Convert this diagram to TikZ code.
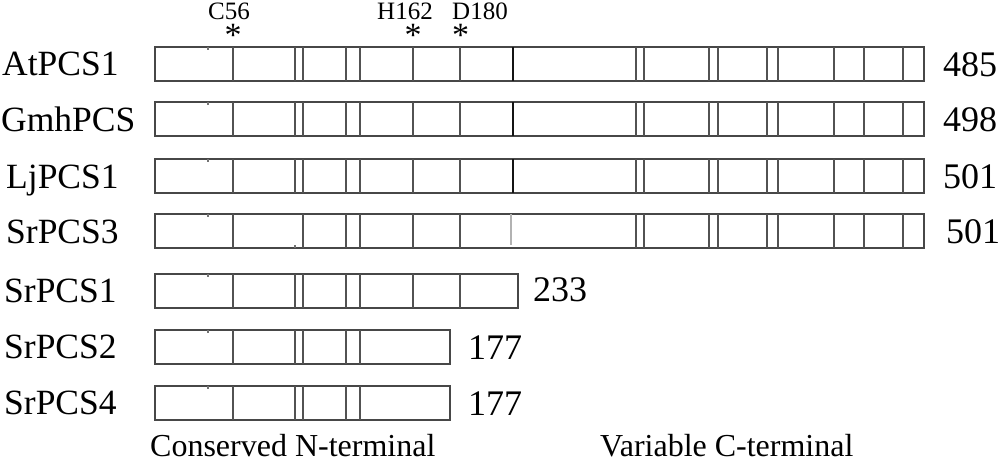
\documentclass[tikz,border=0pt]{standalone}
\usepackage{fontspec}
\setmainfont{Liberation Serif}
\begin{document}
\begin{tikzpicture}[x=1pt,y=-1pt,
  bar/.style={draw=black!72,line width=1.6pt},
  div/.style={draw=black!68,line width=1.6pt},
  thk/.style={draw=black!92,line width=2.6pt},
  lite/.style={draw=black!30,line width=1.6pt},
  tick/.style={draw=black!55,line width=1.2pt},
  lab/.style={anchor=base west,inner sep=0pt,font=\fontsize{35.5}{40}\selectfont},
  num/.style={anchor=base west,inner sep=0pt,font=\fontsize{36}{40}\selectfont},
  site/.style={anchor=base west,inner sep=0pt,align=left,font=\fontsize{25}{27}\selectfont},
  foot/.style={anchor=base west,inner sep=0pt,font=\fontsize{32}{36}\selectfont}]
\useasboundingbox (0,0) rectangle (1000,467);
\def\h{34}
\newcommand\mystar{{\fontsize{34}{27}\selectfont *}}
% --- long rows: AtPCS1, GmhPCS, LjPCS1
\foreach \t in {47,102,159}{
  \draw[bar] (155,\t) rectangle (924,\t+\h);
  \foreach \x in {233,295,303,346,360,413,460,636,644,709,718,767,778,834,864,903}
    \draw[div] (\x,\t) -- (\x,\t+\h);
  \draw[thk] (513,\t) -- (513,\t+\h);
  \draw[tick] (208,\t) -- (208,\t+3);
}
% --- SrPCS3
\draw[bar] (155,214) rectangle (924,248);
\foreach \x in {233,303,346,360,413,460,636,644,709,718,767,778,834,864,903}
  \draw[div] (\x,214) -- (\x,248);
\draw[lite] (511,214) -- (511,245);
\draw[tick] (208,214) -- (208,217);
\draw[tick] (295,248) -- (295,245);
% --- SrPCS1
\draw[bar] (155,274) rectangle (518,308);
\foreach \x in {233,295,303,346,360,413,460}
  \draw[div] (\x,274) -- (\x,308);
\draw[tick] (208,274) -- (208,277);
% --- SrPCS2, SrPCS4
\foreach \t in {330,386}{
  \draw[bar] (155,\t) rectangle (450,\t+\h);
  \foreach \x in {233,295,303,346,360}
    \draw[div] (\x,\t) -- (\x,\t+\h);
  \draw[tick] (208,\t) -- (208,\t+3);
}
% --- names
\node[lab] (l1) at (2,75) {AtPCS1};
\node[lab] (l2) at (1,131) {GmhPCS};
\node[lab] (l3) at (6,188) {LjPCS1};
\node[lab] (l4) at (6,243) {SrPCS3};
\node[lab] (l5) at (4,302) {SrPCS1};
\node[lab] (l6) at (4,358) {SrPCS2};
\node[lab] (l7) at (4,414) {SrPCS4};
% --- lengths
\node[num] (n1) at (943,76) {485};
\node[num] (n2) at (943,131) {498};
\node[num] (n3) at (943,188) {501};
\node[num] (n4) at (946,243) {501};
\node[num] (n5) at (533,301) {233};
\node[num] (n6) at (468,359) {177};
\node[num] (n7) at (468,415) {177};
% --- sites with asterisks (base = baseline of the asterisk line)
\node[site] (c56) at (208,46) {C56\\\hspace*{16.5pt}\mystar};
\node[site] (h162) at (377,46) {H162\\\hspace*{27.5pt}\mystar};
\node[site] (d180) at (452,46) {D180\\\hspace*{0pt}\mystar};
% --- footer
\node[foot] (cn) at (150,456) {Conserved N-terminal};
\node[foot] (vc) at (600,456) {Variable C-terminal};
\end{tikzpicture}
\end{document}
